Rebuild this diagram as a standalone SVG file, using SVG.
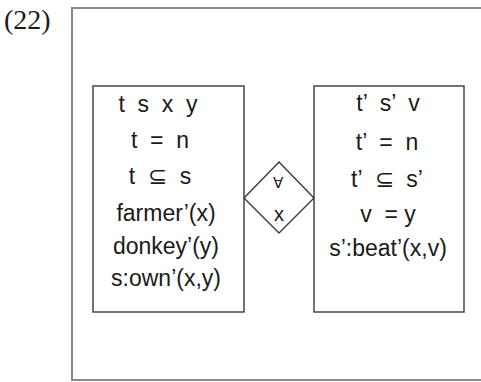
<svg xmlns="http://www.w3.org/2000/svg" width="481" height="382" viewBox="0 0 481 382">
  <style>
    .frame { fill: none; stroke: #8a8a8a; stroke-width: 2; }
    .box { fill: #ffffff; stroke: #3a3a3a; stroke-width: 1.4; }
    .t { font-family: "Liberation Sans", Arial, sans-serif; font-size: 23px; fill: #1a1a1a; text-anchor: middle; }
    .num { font-family: "Liberation Serif", "Times New Roman", serif; font-size: 28px; fill: #1a1a1a; }
  </style>
  <rect width="481" height="382" fill="#ffffff"/>

  <!-- example number and outer frame (open on the right) -->
  <text class="num" x="4" y="29">(22)</text>
  <path class="frame" d="M490,8 H72 V380 H490"/>

  <!-- antecedent box -->
  <g id="antecedent">
    <rect class="box" x="93" y="86" width="151" height="226"/>
    <text class="t" x="158" y="112" xml:space="preserve">t  s  x  y</text>
    <text class="t" x="160" y="148" xml:space="preserve">t  =  n</text>
    <text class="t" x="160" y="184" xml:space="preserve">t  ⊆  s</text>
    <text class="t" x="166" y="221">farmer’(x)</text>
    <text class="t" x="166" y="254">donkey’(y)</text>
    <text class="t" x="166" y="286">s:own’(x,y)</text>
  </g>

  <!-- consequent box -->
  <g id="consequent">
    <rect class="box" x="314" y="86" width="150" height="226"/>
    <text class="t" x="388" y="111" xml:space="preserve">t’  s’  v</text>
    <text class="t" x="387" y="150" xml:space="preserve">t’  =  n</text>
    <text class="t" x="387" y="187" xml:space="preserve">t’  ⊆  s’</text>
    <text class="t" x="388" y="222" xml:space="preserve">v  = y</text>
    <text class="t" x="388" y="256">s’:beat’(x,v)</text>
  </g>

  <!-- universal quantifier diamond joining the two boxes -->
  <g id="connectors">
    <g id="forall">
      <polygon class="box" points="279,162 314,198 279,233 244,198"/>
      <text class="t" x="278" y="188" style="font-size:15px">∀</text>
      <text class="t" x="279" y="221" style="font-size:20px">x</text>
    </g>
  </g>
</svg>
